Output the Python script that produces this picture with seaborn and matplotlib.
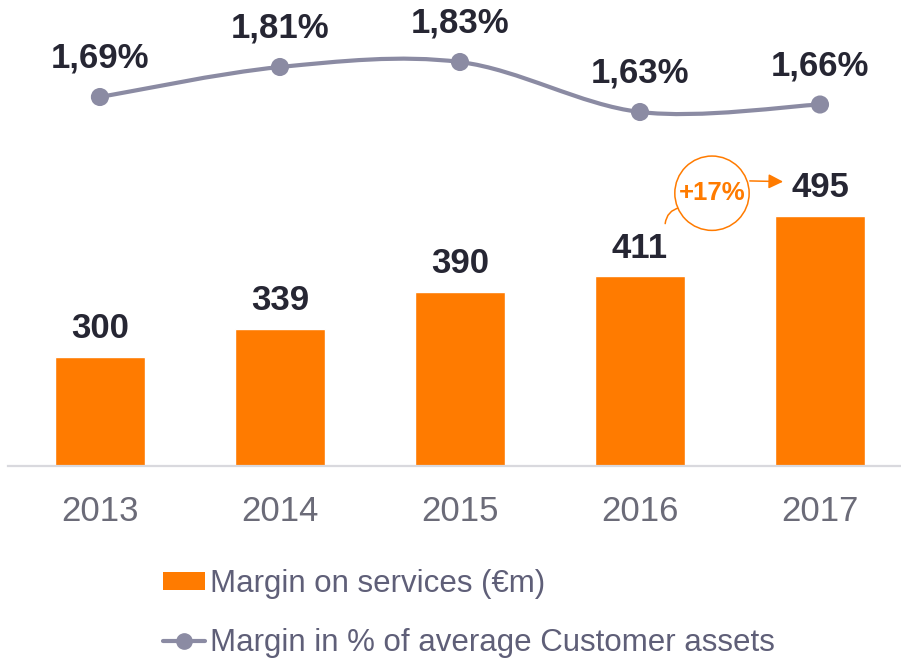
import numpy as np
import matplotlib
matplotlib.use("Agg")
import matplotlib.pyplot as plt
import seaborn as sns
from matplotlib.path import Path
from matplotlib.patches import PathPatch, Patch
from matplotlib.lines import Line2D

# data
years = ["2013", "2014", "2015", "2016", "2017"]
margin_services = [300, 339, 390, 411, 495]          # EUR m
margin_pct = [1.69, 1.81, 1.83, 1.63, 1.66]          # % of avg customer assets
pct_labels = ["1,69%", "1,81%", "1,83%", "1,63%", "1,66%"]
growth_label = "+17%"
legend_labels = ["Margin on services (€m)",
                 "Margin in % of average Customer assets"]

ORANGE = "#FF7B00"
LINE_GREY = "#8B8BA3"
DARK = "#262633"
TICK_GREY = "#6B6B78"
LEGEND_GREY = "#5F5F78"

sns.set_theme(style="white")
plt.rcParams["font.family"] = ["Liberation Sans", "DejaVu Sans"]

fig = plt.figure(figsize=(9.01, 6.62), dpi=100)
ax = fig.add_axes([0.009, 0.296, 0.991, 0.704])

# bars
sns.barplot(x=years, y=margin_services, color=ORANGE, width=0.5,
            saturation=1, ax=ax, zorder=2)
for i, v in enumerate(margin_services):
    ax.annotate(str(v), (i, v), xytext=(0, 20), textcoords="offset points",
                ha="center", va="center", fontsize=25, fontweight="bold",
                color=DARK)

ax.set_ylim(149, 793)
for s in ["top", "left", "right"]:
    ax.spines[s].set_visible(False)
ax.spines["bottom"].set_color("#D9D9DE")
ax.spines["bottom"].set_linewidth(1.6)
ax.set_yticks([])
ax.set_xlabel("")
ax.set_ylabel("")
ax.tick_params(axis="x", length=0, pad=21, labelsize=25, labelcolor=TICK_GREY)

# line on twin axis (smoothed with bezier segments through the points)
ax2 = ax.twinx()
ax2.set_ylim(0.214, 2.078)
ax2.axis("off")
pos = np.arange(len(years))
pts = np.column_stack([pos, margin_pct]).astype(float)
ext = np.vstack([pts[0], pts, pts[-1]])
verts = [tuple(pts[0])]
codes = [Path.MOVETO]
for k in range(len(pts) - 1):
    p0, p1, p2, p3 = ext[k], ext[k + 1], ext[k + 2], ext[k + 3]
    c1 = p1 + (p2 - p0) / 6.0
    c2 = p2 - (p3 - p1) / 6.0
    verts += [tuple(c1), tuple(c2), tuple(p2)]
    codes += [Path.CURVE4] * 3
ax2.add_patch(PathPatch(Path(verts, codes), fill=False, edgecolor=LINE_GREY,
                        lw=3, capstyle="round", zorder=3))
sns.scatterplot(x=pos, y=margin_pct, ax=ax2, s=170, color=LINE_GREY,
                edgecolor="none", zorder=4, legend=False)
for i, (v, lab) in enumerate(zip(margin_pct, pct_labels)):
    ax2.annotate(lab, (i, v), xytext=(0, 28), textcoords="offset points",
                 ha="center", va="center", fontsize=25, fontweight="bold",
                 color=DARK)

# growth callout
ax.text(3.4, 526, growth_label, ha="center", va="center", color=ORANGE,
        fontsize=18.5, fontweight="bold", zorder=5,
        bbox=dict(boxstyle="circle,pad=0.15", fc="white", ec=ORANGE, lw=1.1))
ax.annotate("", xy=(3.795, 542), xytext=(3.61, 543),
            arrowprops=dict(arrowstyle="-|>", color=ORANGE, lw=1.1,
                            mutation_scale=22, shrinkA=0, shrinkB=0))
ax.annotate("", xy=(3.22, 506), xytext=(3.14, 484),
            arrowprops=dict(arrowstyle="-", color=ORANGE, lw=1.1,
                            shrinkA=0, shrinkB=0,
                            connectionstyle="arc3,rad=-0.35"))

ax.set_xlim(-0.51, 4.45)
ax2.set_xlim(-0.51, 4.45)

# legend
handles = [Patch(facecolor=ORANGE, edgecolor="none"),
           Line2D([], [], color=LINE_GREY, lw=3, marker="o", ms=11)]
fig.legend(handles, legend_labels, loc="upper left",
           bbox_to_anchor=(163 / 901, 1 - 569 / 662), frameon=False,
           fontsize=22.5, handlelength=1.35, handleheight=0.5,
           handletextpad=0.15, borderpad=0, borderaxespad=0,
           labelspacing=0.93, labelcolor=LEGEND_GREY)

fig.savefig("out.png", dpi=100)
